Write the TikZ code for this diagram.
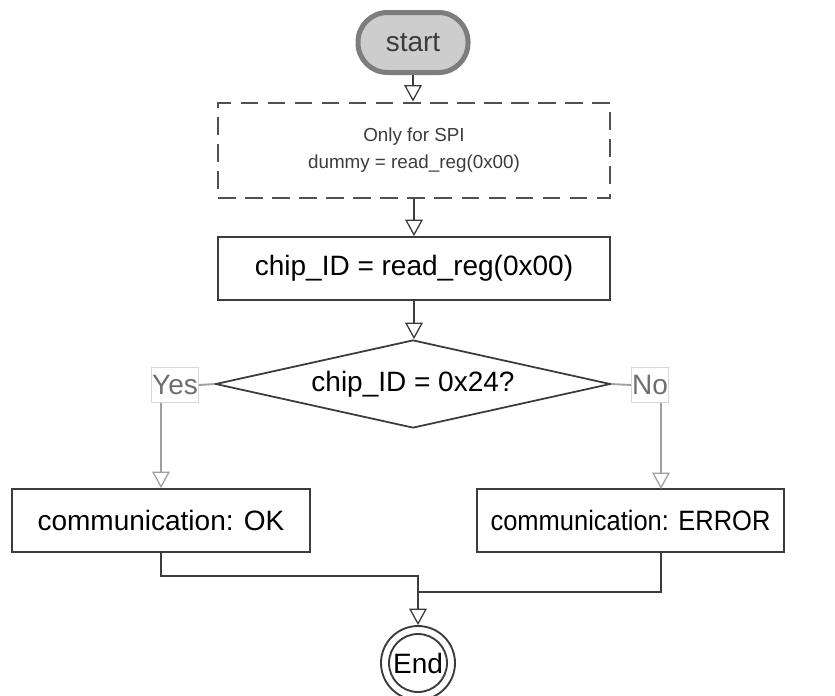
\documentclass[tikz,border=0pt]{standalone}
\usepackage{fontspec}
\setmainfont{Liberation Sans}
\usetikzlibrary{arrows.meta,shapes.geometric}
\definecolor{linegray}{RGB}{60,60,60}
\definecolor{labelgray}{RGB}{110,110,110}
\definecolor{framegray}{RGB}{215,215,215}
\definecolor{wiregray}{RGB}{160,160,160}
\definecolor{startfill}{RGB}{205,205,205}
\definecolor{startline}{RGB}{125,125,125}
\tikzset{
  big/.style={font=\fontsize{23.8}{28}\selectfont},
  small/.style={font=\fontsize{16}{23}\selectfont},
  proc/.style={draw=linegray, line width=1.5pt, inner sep=0pt,
    minimum height=53.55pt, big},
  optional/.style={draw=linegray!90, line width=2.4pt,
    dash pattern=on 15pt off 8pt, inner sep=0pt, align=center, small,
    text=linegray},
  decision/.style={diamond, draw=linegray, line width=1.5pt, inner sep=0pt,
    aspect=4.5, minimum width=335.75pt, minimum height=74.8pt, big},
  terminal/.style={draw=startline, fill=startfill, line width=4.25pt,
    rounded corners=25pt, minimum width=93.5pt, minimum height=51pt,
    inner sep=0pt, big, text=linegray},
  tag/.style={draw=framegray, line width=0.8pt, text=labelgray, inner xsep=0.5pt,
    inner ysep=0pt, minimum height=29pt, big},
  stop/.style={circle, draw=linegray, line width=1.6pt, minimum size=62.9pt,
    inner sep=0pt},
  flow/.style={draw=linegray, line width=1.3pt,
    -{Triangle[open, length=14pt, width=15pt, line width=1.1pt]}},
  wire/.style={draw=wiregray, line width=1.6pt},
  wireflow/.style={draw=wiregray, line width=1.6pt,
    -{Triangle[open, length=14pt, width=15pt, line width=1.1pt]}}
}
\begin{document}
\begin{tikzpicture}[x=0.85pt, y=-0.85pt]
  \useasboundingbox (0,0) rectangle (835,695);
  \node[terminal] (start) at (413,42.5) {start};
  \node[optional, minimum width=333.2pt, minimum height=80.75pt] (spi)
    at (414,150.5) {Only for SPI\\dummy = read\_reg(0x00)};
  \node[proc, minimum width=333.2pt] (chip) at (414,268.5) {chip\_ID = read\_reg(0x00)};
  \node[decision] (check) at (413,384) {chip\_ID = 0x24?};
  \node[tag] (yes) at (175,385) {Yes};
  \node[tag] (no) at (650,385) {No};
  \node[proc, minimum width=253.3pt] (ok) at (161,520.5) {communication: OK};
  \node[proc, minimum width=260.95pt] (err) at (630.5,520.5)
    {\scalebox{0.91}[1]{communication: ERROR}};
  \node[stop, big] (end) at (418,663) {End};
  \node[stop, minimum size=49.3pt] (endin) at (418,663) {};
  \coordinate (errin) at (661,489);
  \coordinate (merge) at (418,576);
  \coordinate (join) at (418,592);
  \begin{scope}
    \draw[flow] (start.south) -- (start.south |- spi.north);
    \draw[flow] (spi.south) -- (chip.north);
    \draw[flow] (chip.south) -- (chip.south |- check.north);
    \draw[wire] (check.west) -- (yes.east);
    \draw[wire] (check.east) -- (no.west);
    \draw[wireflow] (yes.south -| ok.north) -- (ok.north);
    \draw[wireflow] (no.south -| errin) -- (errin);
    \draw[flow] (ok.south) |- (merge) -- (end.north);
    \draw[draw=linegray, line width=1.3pt] (errin |- err.south) |- (join);
  \end{scope}
\end{tikzpicture}
\end{document}
